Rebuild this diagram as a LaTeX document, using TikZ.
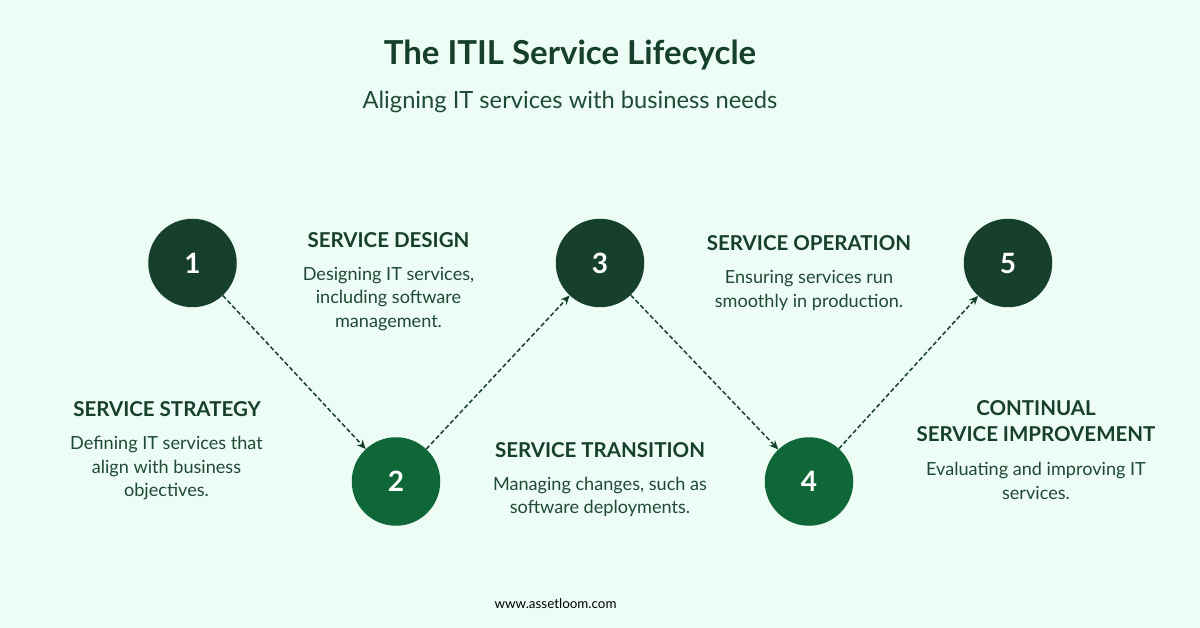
\documentclass[tikz,border=0pt]{standalone}
\usepackage{fontspec}
\setmainfont{Lato}
\usetikzlibrary{arrows.meta}
\definecolor{pagebg}{HTML}{EDFCF5}
\definecolor{darkgreen}{HTML}{173F2D}
\definecolor{midgreen}{HTML}{0F6636}
\definecolor{bodytext}{HTML}{1F4A38}
\tikzset{
  stepnum/.style={circle,minimum size=88.5pt,inner sep=0pt,text=white,font=\fontsize{28}{28}\selectfont\bfseries},
  headtext/.style={text=darkgreen,align=center,font=\fontsize{20.5}{26}\selectfont\bfseries},
  bodyblock/.style={text=bodytext,align=center,font=\fontsize{18.1}{23.5}\selectfont},
  linkarrow/.style={dash pattern=on 4.5pt off 2.5pt,draw=darkgreen,line width=1.5pt,-{Stealth[length=9pt,width=8pt]}}
}
\begin{document}
\begin{tikzpicture}[x=1pt,y=-1pt]
  \path[use as bounding box,fill=pagebg] (0,0) rectangle (1200,628);

  \node[text=darkgreen,font=\fontsize{33}{33}\selectfont\bfseries] (title) at (570,55.5) {The ITIL Service Lifecycle};
  \node[text=bodytext,font=\fontsize{23.7}{23.7}\selectfont] (subtitle) at (570,101.5) {Aligning IT services with business needs};

  \begin{scope}[every node/.append style={stepnum}]
    \node[fill=darkgreen] (1) at (192.5,263) {1};
    \node[fill=midgreen]  (2) at (396,481.5) {2};
    \node[fill=darkgreen] (3) at (600,263) {3};
    \node[fill=midgreen]  (4) at (809,481.5) {4};
    \node[fill=darkgreen] (5) at (1008,263) {5};
  \end{scope}

  \path (1) edge[linkarrow] (2);
  \path (2) edge[linkarrow] (3);
  \path (3) edge[linkarrow] (4);
  \path (4) edge[linkarrow] (5);

  \node[headtext] (strategy) at (167,409.5) {SERVICE STRATEGY};
  \node[bodyblock] (strategytext) at (166.5,468) {Defining IT services that\\align with business\\objectives.};
  \node[headtext] (design) at (388.5,240.5) {SERVICE DESIGN};
  \node[bodyblock] (designtext) at (388.5,299) {Designing IT services,\\including software\\management.};
  \node[headtext] (transition) at (600,450.5) {SERVICE TRANSITION};
  \node[bodyblock] (transitiontext) at (600,497) {Managing changes, such as\\software deployments.};
  \node[headtext] (operation) at (809,243.5) {SERVICE OPERATION};
  \node[bodyblock] (operationtext) at (809,290.5) {Ensuring services run\\smoothly in production.};
  \node[headtext] (improvement) at (1036,421.5) {CONTINUAL\\SERVICE IMPROVEMENT};
  \node[bodyblock] (improvementtext) at (1036,481) {Evaluating and improving IT\\services.};

  \node[text=black,font=\fontsize{13.4}{13.4}\selectfont] (site) at (555.5,603.5) {www.assetloom.com};
\end{tikzpicture}
\end{document}
